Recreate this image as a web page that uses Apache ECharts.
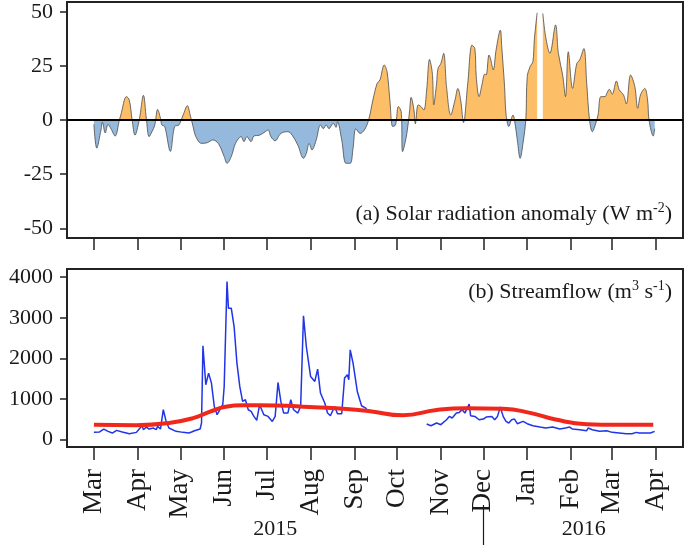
<!DOCTYPE html>
<html>
<head>
<meta charset="utf-8">
<script src="https://cdn.jsdelivr.net/npm/echarts@6/dist/echarts.min.js"></script>
<style>html,body{margin:0;padding:0;background:#fff}#c{width:685px;height:545px}</style>
</head>
<body>
<div id="c"></div>
<script>
// ---- data (x = days since 2015-03-01) ----
const monthTicks = ['2015-03-01','2015-04-01','2015-05-01','2015-06-01','2015-07-01','2015-08-01','2015-09-01','2015-10-01','2015-11-01','2015-12-01','2016-01-01','2016-02-01','2016-03-01','2016-04-01'];
const monthLabels = ['Mar','Apr','May','Jun','Jul','Aug','Sep','Oct','Nov','Dec','Jan','Feb','Mar','Apr'];
const yearLabels = ['2015','2016'];
const yearLabelDates = ['2015-07-07','2016-02-10'];
const yearDividerDate = '2015-12-01';
const solarTicks = [-50,-25,0,25,50];
const flowTicks = [0,1000,2000,3000,4000];

const solarDay = [0,2,5,6,8,10,12,15,18,19,23,25,27,29,32,35,37,39,41,43,45,47,48,50,54,57,60,63,66,68,70,72,76,80,84,88,92,94,97,100,104,106,108,111,113,117,121,123,125,128,132,137,140,144,148,150,152,154,157,160,162,164,166,169,171,172,175,178,181,183,185,188,191,194,197,200,202,205,207,209,211,213,215,217,218,221,223,224,226,227,229,231,233,235,237,239,240,242,243,245,247,249,252,255,257,259,261,264,267,269,270,272,274,276,277,279,280,282,284,287,288,290,291,293,296,297,299,301,303,305,306,308,310,311,313,315,317,319,322,326,328,331,333,335,338,341,343,346,348,350,352,354,356,358,361,362,364,366,369,371,374,376,379,382,384,386,389,391,392,395,396];
const solarValue = [-2,-13,-4.6,-1,-6,-2,-4,-7.4,0,2.3,10.8,9.2,0,-7,0,11.4,0.8,-7.7,-5.4,-2.3,4.9,0.8,-2.3,-3,-14.5,-3,-2.3,2.3,6.6,2.3,-3,-7.7,-10.8,-10.5,-9.2,-11,-16.9,-20,-16.9,-10.8,-7.7,-10,-7.7,-10,-7.4,-7,-5.4,-4.6,-7.7,-9.6,-6.2,-5.4,-7,-11.6,-17.7,-15.4,-10.8,-13.8,-9.2,-2.3,-4,-2.3,-4,-1.5,-3.4,-0.8,-9.2,-20,-20,-13,-4,-6.2,-4.6,0,9.2,16.9,18.5,25.4,22.3,9.2,-3,-2.3,6.2,3.8,-14.6,-6.2,4.6,10.5,4.6,-1.8,7,6.2,4.6,13.9,28,21.5,7,16.9,23.8,26.1,30.8,15.4,2.3,9.2,14.6,9.2,-1.2,16.9,34.6,33,20,10.8,16.2,21.2,20.8,30,28.5,23.1,32.3,41.5,33.8,15.4,3,-3,2.3,0,-9.2,-17.7,-10.8,0,20,24.6,27,36.9,49.5,null,49.2,38.5,30.8,43.9,30.8,20.8,10.8,31.5,14.6,26.1,27.7,33,16.9,0,-5.4,-2.3,2.3,10.8,10.8,12,14.2,11.9,18,13.9,11.6,7.4,20.8,15.4,5.4,11.6,14.6,9.2,0,-7.4,-4];

const flowDay = [0,4,7,10,13,16,20,25,30,32,34,35,37,39,42,44,45,47,49,51,53,58,63,67,69,71,75,76,77,79,81,83,85,87,89,91,92,94,95,97,99,101,103,105,107,109,111,113,115,117,120,123,126,128,130,132,134,137,139,141,144,146,148,150,153,156,158,160,163,165,167,170,172,175,177,179,180,181,183,186,189,192,193,214,235,238,242,245,249,251,253,256,258,260,262,263,265,266,269,272,275,277,281,283,285,287,289,291,293,295,297,299,303,306,310,315,319,324,329,333,336,338,343,348,349,352,357,362,366,371,376,380,383,385,390,393,396];
const flowValue = [180,190,262,204,164,229,188,147,180,262,344,246,311,262,287,246,328,262,737,450,287,205,180,164,188,221,262,410,2310,1351,1638,1392,819,614,737,860,1310,3890,3235,3235,2784,1884,1310,941,983,737,696,573,475,860,614,573,450,573,1408,941,655,655,983,737,655,819,3047,2293,1556,1433,1736,1147,901,655,590,819,639,639,1516,1597,1474,2211,1884,1187,835,778,720,null,385,344,410,369,491,573,533,655,671,737,655,614,876,590,573,491,508,557,573,491,573,803,573,450,410,491,508,393,450,393,344,311,287,311,262,287,311,262,246,221,287,246,205,221,180,164,147,147,180,164,164,164,205];

const climDay = [0,30,53,70,82,93,105,129,152,176,195,218,242,263,289,308,326,348,369,395];
const climValue = [370,358,410,530,690,810,845,840,805,760,700,600,730,775,760,660,495,380,365,365];

// ---- helpers ----
const DAY0 = Date.UTC(2015,2,1);
function dayOf(s){const p=s.split('-').map(Number);return (Date.UTC(p[0],p[1]-1,p[2])-DAY0)/86400000;}
function zip(a,b){return a.map((d,i)=>[d,b[i]]);}
const monthDays = monthTicks.map(dayOf);
const yearDays = yearLabelDates.map(dayOf);
const dividerDay = dayOf(yearDividerDate);
const FONT = '"Liberation Serif","Times New Roman",serif';
const INK = '#1a1a1a';
const FRAME = '#222';

const chart = echarts.init(document.getElementById('c'), null, {renderer:'canvas'});
const xBase = {type:'value', min:-19, max:416, splitLine:{show:false}, axisLine:{show:false, onZero:false}};
const titleRich = {
  n:{fontSize:22, lineHeight:26, fontFamily:FONT, fontWeight:'normal', color:INK},
  s:{fontSize:14, lineHeight:14, verticalAlign:'top', fontFamily:FONT, fontWeight:'normal', color:INK}
};
chart.setOption({
  animation:false,
  backgroundColor:'#fff',
  title:[
    {text:'{n|(a) Solar radiation anomaly (W m}{s|-2}{n|)}', right:13, top:201, padding:0, textStyle:{fontWeight:'normal', rich:titleRich}},
    {text:'{n|(b) Streamflow (m}{s|3}{n| s}{s|-1}{n|)}', right:13, top:279, padding:0, textStyle:{fontWeight:'normal', rich:titleRich}}
  ],
  grid:[
    {left:67, top:2, width:616, height:236, show:true, borderColor:FRAME, borderWidth:2, backgroundColor:'transparent', outerBoundsMode:'none'},
    {left:67, top:269, width:616, height:178, show:true, borderColor:FRAME, borderWidth:2, backgroundColor:'transparent', outerBoundsMode:'none'}
  ],
  xAxis:[
    Object.assign({}, xBase, {gridIndex:0, position:'bottom',
      axisTick:{show:true, inside:false, length:12, customValues:monthDays, lineStyle:{color:FRAME, width:1.5}},
      axisLabel:{show:false}}),
    Object.assign({}, xBase, {gridIndex:1, position:'bottom',
      axisTick:{show:true, inside:false, length:13, customValues:monthDays, lineStyle:{color:FRAME, width:1.5}},
      axisLabel:{show:true, customValues:monthDays, rotate:90, margin:22, fontSize:27, fontFamily:FONT, color:INK,
        formatter:(v)=>{const i=monthDays.indexOf(v);return i>=0?monthLabels[i]:'';}}}),
    Object.assign({}, xBase, {gridIndex:1, position:'bottom', offset:58,
      axisTick:{show:true, inside:false, length:40, customValues:[dividerDay], lineStyle:{color:INK, width:1.2}},
      axisLabel:{show:true, customValues:yearDays, margin:13, fontSize:22, fontFamily:FONT, color:INK,
        formatter:(v)=>{const i=yearDays.indexOf(v);return i>=0?yearLabels[i]:'';}}})
  ],
  yAxis:[
    {type:'value', gridIndex:0, min:-54.5, max:54.5, splitLine:{show:false}, axisLine:{show:false, onZero:false},
      axisTick:{show:true, inside:false, length:7, customValues:solarTicks, lineStyle:{color:FRAME, width:1.5}},
      axisLabel:{show:true, customValues:solarTicks, margin:14, fontSize:22, fontFamily:FONT, color:INK, formatter:(v)=>String(v)}},
    {type:'value', gridIndex:1, min:-180, max:4200, splitLine:{show:false}, axisLine:{show:false, onZero:false},
      axisTick:{show:true, inside:false, length:7, customValues:flowTicks, lineStyle:{color:FRAME, width:1.5}},
      axisLabel:{show:true, customValues:flowTicks, margin:14, fontSize:22, fontFamily:FONT, color:INK, formatter:(v)=>String(v)}}
  ],
  visualMap:{show:false, type:'piecewise', seriesIndex:0, dimension:1,
    pieces:[{gte:-100, lt:0, color:'#94b9dc'},{gte:0, lte:100, color:'#fdbe68'}]},
  series:[
    {type:'line', xAxisIndex:0, yAxisIndex:0, data:zip(solarDay, solarValue), smooth:0.35, showSymbol:false, connectNulls:false,
      lineStyle:{color:'#4a4a4a', width:0.8}, areaStyle:{opacity:1}},
    {type:'line', xAxisIndex:0, yAxisIndex:0, data:[], silent:true,
      markLine:{silent:true, symbol:'none', label:{show:false}, lineStyle:{color:'#000', width:2, type:'solid'}, data:[{yAxis:0}]}},
    {type:'line', xAxisIndex:1, yAxisIndex:1, data:zip(flowDay, flowValue), showSymbol:false, connectNulls:false,
      lineStyle:{color:'#1f35e6', width:1.5}},
    {type:'line', xAxisIndex:1, yAxisIndex:1, data:zip(climDay, climValue), smooth:true, showSymbol:false,
      lineStyle:{color:'#f0281c', width:4}}
  ]
});
</script>
</body>
</html>
